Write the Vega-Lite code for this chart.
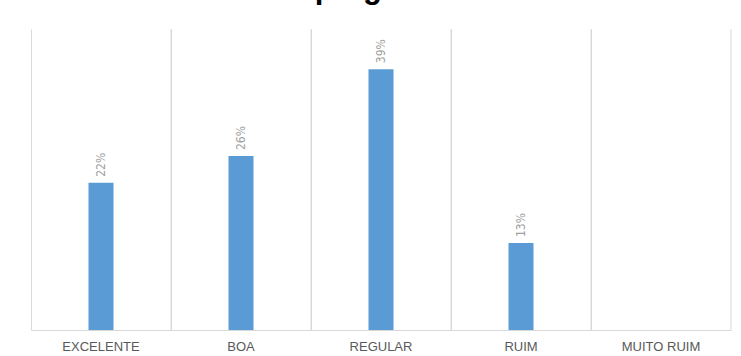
{
  "$schema": "https://vega.github.io/schema/vega-lite/v6.json",
  "autosize": "none",
  "width": 700,
  "height": 301,
  "padding": {"left": 31, "top": 29, "right": 10, "bottom": 26},
  "background": "white",
  "title": {
    "text": "pergunta",
    "font": "Liberation Sans",
    "fontSize": 31,
    "fontWeight": "bold",
    "color": "#000000",
    "anchor": "middle",
    "baseline": "alphabetic",
    "offset": 0
  },
  "config": {"view": {"stroke": null}},
  "data": {
    "values": [
      {"categoria": "EXCELENTE", "valor": 0.22},
      {"categoria": "BOA", "valor": 0.26},
      {"categoria": "REGULAR", "valor": 0.39},
      {"categoria": "RUIM", "valor": 0.13},
      {"categoria": "MUITO RUIM", "valor": 0}
    ]
  },
  "encoding": {
    "x": {
      "field": "categoria",
      "type": "nominal",
      "sort": null,
      "scale": {"paddingInner": 0, "paddingOuter": 0},
      "axis": {
        "title": null,
        "labelAngle": 0,
        "ticks": false,
        "grid": true,
        "bandPosition": 0,
        "gridColor": "#d9d9d9",
        "gridWidth": 1,
        "domainColor": "#d9d9d9",
        "domainWidth": 1,
        "labelFont": "Liberation Sans",
        "labelFontSize": 13,
        "labelColor": "#595959",
        "labelPadding": 10,
        "labelBaseline": "top"
      }
    }
  },
  "layer": [
    {
      "mark": {"type": "rule", "color": "#d9d9d9", "strokeWidth": 1},
      "encoding": {
        "x": {"field": "categoria", "type": "nominal", "sort": null, "bandPosition": 1}
      }
    },
    {
      "mark": {"type": "bar", "color": "#5b9bd5", "width": 25},
      "encoding": {
        "y": {
          "field": "valor",
          "type": "quantitative",
          "scale": {"domain": [0, 0.45], "nice": false},
          "axis": null
        }
      }
    },
    {
      "transform": [{"filter": "datum.valor > 0"}],
      "mark": {
        "type": "text",
        "angle": 270,
        "align": "left",
        "baseline": "middle",
        "dx": 6,
        "font": "DejaVu Sans Condensed, Liberation Sans, sans-serif",
        "fontSize": 12,
        "color": "#a0a0a0"
      },
      "encoding": {
        "y": {"field": "valor", "type": "quantitative"},
        "text": {"field": "valor", "type": "quantitative", "format": ".0%"}
      }
    }
  ]
}
